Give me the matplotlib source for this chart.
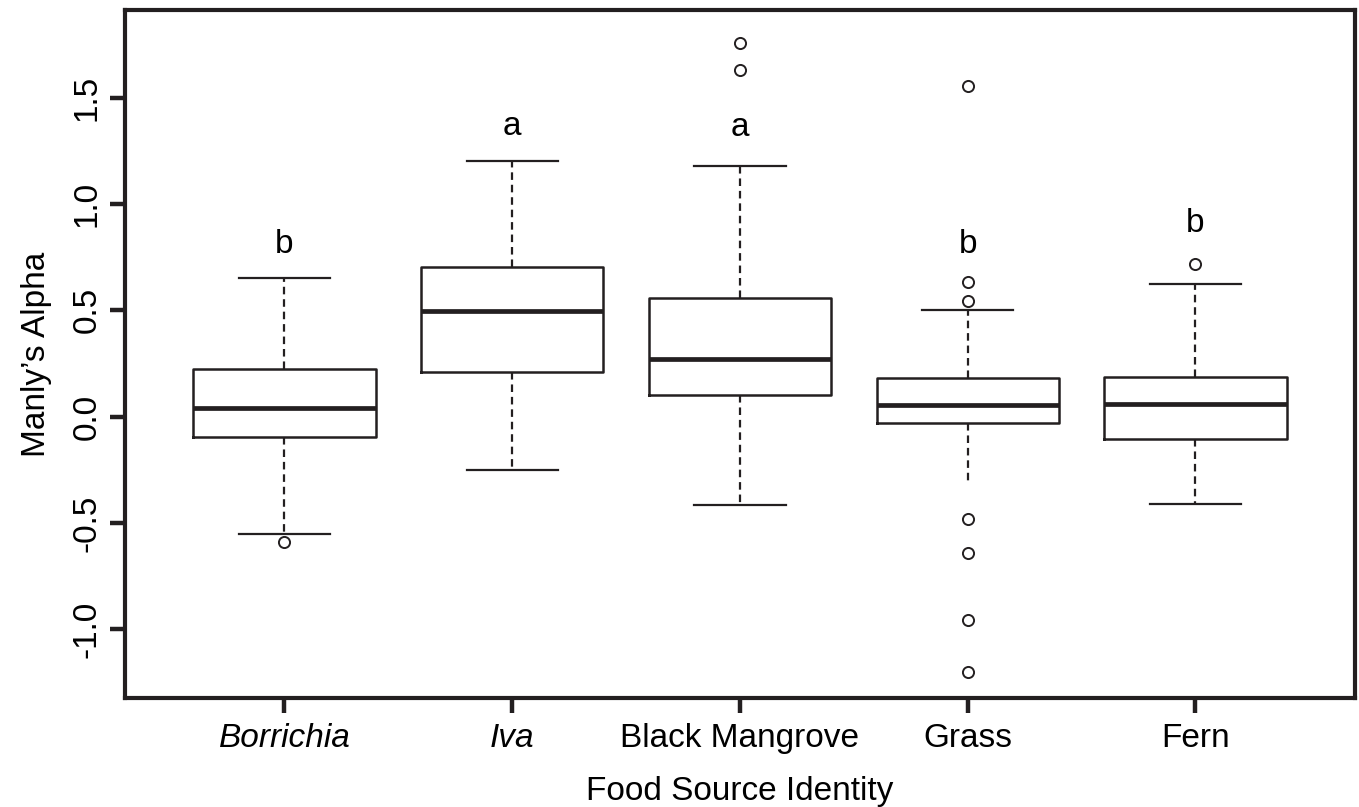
import matplotlib
matplotlib.use("Agg")
import matplotlib.pyplot as plt

plt.rcParams["font.family"] = ["Liberation Sans", "DejaVu Sans"]

# Box statistics (Manly's alpha per food source)
categories = ["Borrichia", "Iva", "Black Mangrove", "Grass", "Fern"]
italic_labels = ["Borrichia", "Iva"]
q1 = [-0.094, 0.209, 0.101, -0.032, -0.107]
medians = [0.039, 0.498, 0.272, 0.054, 0.059]
q3 = [0.225, 0.705, 0.560, 0.180, 0.188]
whisker_lo = [-0.553, -0.249, -0.415, -0.307, -0.413]
whisker_hi = [0.650, 1.200, 1.180, 0.500, 0.624]
outliers = [
    [-0.589],
    [],
    [1.758, 1.630],
    [1.554, 0.634, 0.545, -0.484, -0.640, -0.957, -1.200],
    [0.717],
]
letters = ["b", "a", "a", "b", "b"]
letter_y = [0.81, 1.365, 1.36, 0.81, 0.91]

ink = "#231f20"
fs = 24

stats = []
for i, name in enumerate(categories):
    stats.append({
        "label": name,
        "q1": q1[i],
        "med": medians[i],
        "q3": q3[i],
        "whislo": whisker_lo[i],
        "whishi": whisker_hi[i],
        "fliers": outliers[i],
    })

fig = plt.figure(figsize=(13.59, 8.07), dpi=100)
ax = fig.add_axes([0.092, 0.135, 0.905, 0.8525])

positions = list(range(1, len(categories) + 1))
parts = ax.bxp(
    stats,
    positions=positions,
    widths=0.8,
    showfliers=True,
    boxprops=dict(color=ink, linewidth=1.8),
    medianprops=dict(color=ink, linewidth=3.4, solid_capstyle="butt"),
    whiskerprops=dict(color=ink, linewidth=1.6, linestyle=(0, (3.4, 2.2))),
    capprops=dict(color=ink, linewidth=1.6),
    capwidths=0.4,
    flierprops=dict(marker="o", markerfacecolor="none", markeredgecolor=ink,
                    markersize=8, markeredgewidth=1.4, linestyle="none"),
)
# the lower whisker of Grass has no staple in the original
parts["caps"][2 * categories.index("Grass")].set_visible(False)

for x, lab, y in zip(positions, letters, letter_y):
    ax.text(x, y, lab, ha="center", va="center", fontsize=fs, color="black")

ax.set_xlim(0.3, 5.7)
ax.set_ylim(-1.324, 1.912)
ax.set_yticks([-1.0, -0.5, 0.0, 0.5, 1.0, 1.5])
ax.set_yticklabels(["-1.0", "-0.5", "0.0", "0.5", "1.0", "1.5"])
ax.set_xticks(positions)
ax.set_xticklabels(categories)
for lbl in ax.get_xticklabels():
    if lbl.get_text() in italic_labels:
        lbl.set_fontstyle("italic")

ax.tick_params(axis="both", direction="out", length=11, width=3.2,
               color=ink, labelsize=fs, labelcolor="black")
ax.tick_params(axis="y", pad=5, labelrotation=90)
ax.tick_params(axis="x", pad=7)
for lbl in ax.get_yticklabels():
    lbl.set_va("center")

for side in ["left", "right", "top", "bottom"]:
    ax.spines[side].set_linewidth(3.0)
    ax.spines[side].set_color(ink)

ax.set_xlabel("Food Source Identity", fontsize=fs, labelpad=16)
ax.set_ylabel("Manly\u2019s Alpha", fontsize=fs, labelpad=14)

fig.savefig("out.png", dpi=100)
